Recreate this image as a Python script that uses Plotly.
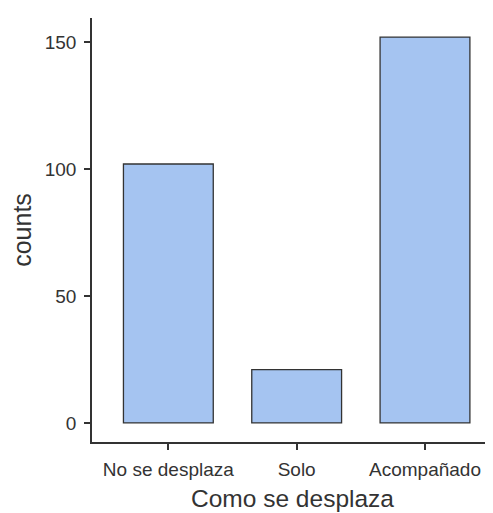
import plotly.graph_objects as go

categories = ["No se desplaza", "Solo", "Acompañado"]
counts = [102, 21, 152]
y_ticks = [0, 50, 100, 150]

fig = go.Figure(go.Bar(
    x=categories, y=counts, width=0.7,
    marker=dict(color="#A5C4F1", line=dict(color="#333333", width=1.3)),
))

font_family = "Liberation Sans, Arial, sans-serif"
fig.update_layout(
    width=493, height=513,
    margin=dict(l=84, r=8, t=10, b=79),
    plot_bgcolor="white", paper_bgcolor="white",
    showlegend=False,
    font=dict(family=font_family, color="#333333"),
    xaxis=dict(
        range=[-0.595, 2.53], automargin=False,
        showline=True, linecolor="#333333", linewidth=1.5,
        ticks="outside", ticklen=6, tickcolor="#333333", tickwidth=1.5,
        ticklabelstandoff=3,
        tickfont=dict(size=19, color="#333333"),
        title=dict(text="Como se desplaza", font=dict(size=24.5, color="#333333"), standoff=11),
        showgrid=False, zeroline=False,
    ),
    yaxis=dict(
        range=[-7.5, 159.5], automargin=False,
        tickvals=y_ticks,
        showline=True, linecolor="#333333", linewidth=1.5,
        ticks="outside", ticklen=6, tickcolor="#333333", tickwidth=1.5,
        ticklabelstandoff=4,
        tickfont=dict(size=19, color="#333333"),
        title=dict(text="counts", font=dict(size=25, color="#333333"), standoff=19),
        showgrid=False, zeroline=False,
    ),
)

fig.write_html("out.html")
